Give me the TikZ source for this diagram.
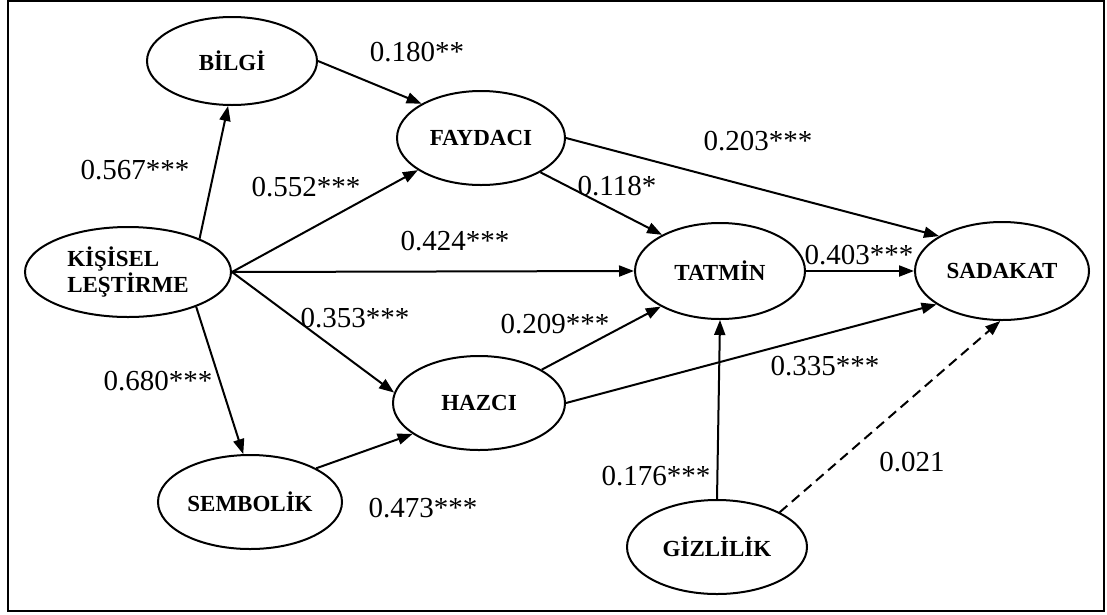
\documentclass[tikz,border=0pt]{standalone}
\usepackage{fontspec}
\setmainfont{Liberation Serif}
\usetikzlibrary{shapes.geometric, arrows.meta, positioning}
\tikzset{
  latentnode/.style={
    draw, ellipse, line width=2pt, align=left, inner sep=0pt,
    font=\fontsize{23}{26}\selectfont\bfseries, fill=white
  },
  patharrow/.style={
    -{Triangle[length=15pt,width=11pt]}, line width=2pt
  },
  coeflabel/.style={
    font=\fontsize{29}{33}\selectfont, inner sep=0pt
  },
}

\begin{document}
\begin{tikzpicture}[x=1pt, y=-1pt]
  \useasboundingbox (0,0) rectangle (1107,614);
  % Frame
  \draw[line width=2.4pt] (8,1) rectangle (1104,611);

  % Constructs
  \node[latentnode, minimum width=170pt, minimum height=88pt]
    (bilgi) at (232,61) {B\.ILG\.I};
  \node[latentnode, minimum width=206pt, minimum height=90pt]
    (kis) at (128,272) {K\.I\c{S}\.ISEL\\LE\c{S}T\.IRME};
  \node[latentnode, minimum width=184pt, minimum height=94pt]
    (semb) at (250,502) {SEMBOL\.IK};
  \node[latentnode, minimum width=168pt, minimum height=94pt]
    (fay) at (481,138) {FAYDACI};
  \node[latentnode, minimum width=172pt, minimum height=94pt]
    (haz) at (479,403) {HAZCI};
  \node[latentnode, minimum width=170pt, minimum height=96pt]
    (tat) at (720,271) {TATM\.IN};
  \node[latentnode, minimum width=174pt, minimum height=98pt]
    (sad) at (1002,271) {SADAKAT};
  \node[latentnode, minimum width=180pt, minimum height=94pt]
    (giz) at (717,547) {G\.IZL\.IL\.IK};

  % Arrows
  \draw[patharrow] (kis.25) -- (bilgi.265);
  \draw[patharrow] (kis.333) -- (semb.98);
  \draw[patharrow] (kis.east) -- (fay.207);
  \draw[patharrow] (kis.east) -- (tat.west);
  \draw[patharrow] (kis.east) -- (haz.173);
  \draw[patharrow] (bilgi.east) -- (fay.150);
  \draw[patharrow] (semb.27) -- (haz.205);
  \draw[patharrow] (fay.330) -- (tat.148);
  \draw[patharrow] (fay.east) -- (sad.151);
  \draw[patharrow] (tat.east) -- (sad.west);
  \draw[patharrow] (haz.28) -- (tat.211);
  \draw[patharrow] (haz.east) -- (sad.207);
  \draw[patharrow] (giz.north) -- (tat.south);
  \draw[patharrow, dash pattern=on 10pt off 6pt] (giz.29) -- (sad.268);

  % Coefficients
  \node[coeflabel] (c-bf) at (417,52) {0.180**};
  \node[coeflabel] (c-kb) at (135,170) {0.567***};
  \node[coeflabel] (c-kf) at (306,187) {0.552***};
  \node[coeflabel] (c-kt) at (455,241) {0.424***};
  \node[coeflabel] (c-fs) at (758,141) {0.203***};
  \node[coeflabel] (c-ft) at (617,186) {0.118*};
  \node[coeflabel] (c-ts) at (859,255) {0.403***};
  \node[coeflabel] (c-kh) at (355,318) {0.353***};
  \node[coeflabel] (c-ht) at (555,324) {0.209***};
  \node[coeflabel] (c-hs) at (825,366) {0.335***};
  \node[coeflabel] (c-ks) at (158,381) {0.680***};
  \node[coeflabel] (c-gt) at (656,476) {0.176***};
  \node[coeflabel] (c-gs) at (912,462) {0.021};
  \node[coeflabel] (c-sh) at (423,508) {0.473***};
\end{tikzpicture}
\end{document}
